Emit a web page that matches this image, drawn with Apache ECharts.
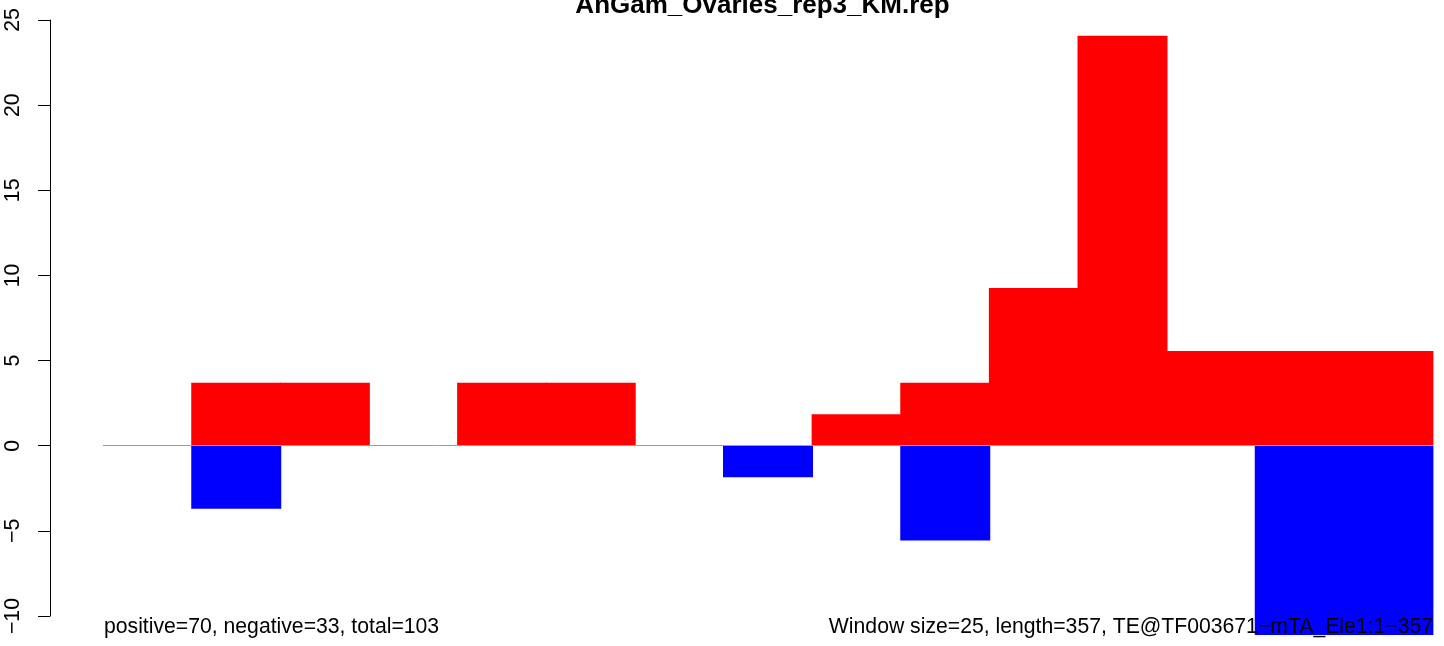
<!DOCTYPE html>
<html>
<head>
<meta charset="utf-8">
<script src="https://cdn.jsdelivr.net/npm/echarts@6/dist/echarts.min.js"></script>
<style>
  html, body { margin: 0; padding: 0; background: #fff; }
  #chart { width: 1444px; height: 646px; }
</style>
</head>
<body>
<div id="chart"></div>
<script>
// windows along the element (25 bp each)
var windows = ['1', '2', '3', '4', '5', '6', '7', '8', '9', '10', '11', '12', '13', '14', '15'];
var positive = [0, 3.7, 3.7, 0, 3.7, 3.7, 0, 0, 1.85, 3.7, 9.26, 24.07, 5.56, 5.56, 5.56];
var negative = [0, -3.7, 0, 0, 0, 0, 0, -1.85, 0, -5.56, 0, 0, 0, -11.11, -11.11];
var yTicks = [-10, 25, 5];

var titleText = 'AnGam_Ovaries_rep3_KM.rep';
var leftNote = 'positive=70, negative=33, total=103';
var rightNote = 'Window size=25, length=357, TE@TF003671\u2212mTA_Ele1:1\u2212357';

var myChart = echarts.init(document.getElementById('chart'));
var font = '"Liberation Sans", Arial, Helvetica, sans-serif';

// empty windows draw nothing
function skipZero(list) {
    return list.map(function (v) { return v === 0 ? null : v; });
}

var option = {
    backgroundColor: '#fff',
    animation: false,
    grid: {
        left: 103.3,
        right: 11.3,
        top: 20,
        bottom: 30
    },
    xAxis: {
        type: 'category',
        data: windows,
        z: 5,
        axisLine: {
            show: true,
            onZero: true,
            lineStyle: { color: '#9e9e9e', width: 1 }
        },
        axisTick: { show: false },
        axisLabel: { show: false },
        splitLine: { show: false }
    },
    yAxis: {
        type: 'value',
        min: yTicks[0],
        max: yTicks[1],
        interval: yTicks[2],
        offset: 53.3,
        axisLine: {
            show: true,
            lineStyle: { color: '#000', width: 1 }
        },
        axisTick: {
            show: true,
            length: 12,
            lineStyle: { color: '#000', width: 1 }
        },
        axisLabel: {
            rotate: 90,
            margin: 26,
            color: '#000',
            fontSize: 21.3,
            fontFamily: font,
            formatter: function (v) {
                return String(v).replace('-', '\u2212');
            }
        },
        splitLine: { show: false }
    },
    series: [
        {
            name: 'positive',
            type: 'bar',
            data: skipZero(positive),
            barWidth: 90,
            barGap: '-100%',
            clip: false,
            itemStyle: { color: '#ff0000' }
        },
        {
            name: 'negative',
            type: 'bar',
            data: skipZero(negative),
            barWidth: 90,
            barGap: '-100%',
            clip: false,
            itemStyle: { color: '#0000ff' }
        }
    ],
    graphic: [
        {
            type: 'text',
            z: 100,
            style: {
                text: titleText,
                x: 762.5,
                y: 5.5,
                font: 'bold 26px ' + font,
                fill: '#000',
                textAlign: 'center',
                textVerticalAlign: 'middle',
                align: 'center',
                verticalAlign: 'middle'
            }
        },
        {
            type: 'text',
            z: 100,
            style: {
                text: leftNote,
                x: 104,
                y: 627.3,
                font: '21.2px ' + font,
                fill: '#000',
                textAlign: 'left',
                textVerticalAlign: 'middle',
                align: 'left',
                verticalAlign: 'middle'
            }
        },
        {
            type: 'text',
            z: 100,
            style: {
                text: rightNote,
                x: 1433,
                y: 627.3,
                font: '21.2px ' + font,
                fill: '#000',
                textAlign: 'right',
                textVerticalAlign: 'middle',
                align: 'right',
                verticalAlign: 'middle'
            }
        }
    ]
};

myChart.setOption(option);
window.onresize = function () {
    myChart.resize();
};
</script>
</body>
</html>
